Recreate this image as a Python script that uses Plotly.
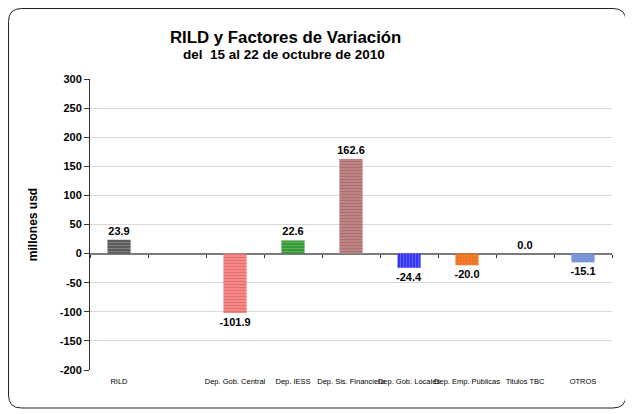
import plotly.graph_objects as go

categories = ["RILD", " ", "Dep. Gob. Central", "Dep. IESS", "Dep. Sis. Financiero",
              "Dep. Gob. Locales", "Dep. Emp. Públicas", "Titulos TBC", "OTROS"]
values = [23.9, None, -101.9, 22.6, 162.6, -24.4, -20.0, 0.0, -15.1]
colors = ["#5c5c5c", "#ffffff", "#ff8585", "#339933", "#c08282",
          "#3535fa", "#ff7b24", "#ffffff", "#7d98e0"]
pattern_fg = ["#4a4a4a", "#ffffff", "#f57c7c", "#2f8c2f", "#b87a7a",
              "#2c2cec", "#f2721a", "#ffffff", "#728cd6"]
pattern_shapes = ["-", "", "-", "-", "-", "|", "+", "", "/"]
yticks = [-200, -150, -100, -50, 0, 50, 100, 150, 200, 250, 300]

FONT = "Liberation Sans, Arial, sans-serif"
labels = ["" if v is None else f"{v:.1f}" for v in values]
ytick_text = [str(v) for v in yticks]

# page has an 8px body margin: build the figure 8px smaller and shift coords
OFF = 8
W, H = 633 - OFF, 414 - OFF
PL, PR, PT, PB = 90, 612, 79, 370          # plot area in page pixels
l, t = PL - OFF, PT - OFF
r, b = W - (PR - OFF), H - (PB - OFF)
pw, ph = PR - PL, PB - PT

fig = go.Figure()
fig.add_trace(go.Bar(
    x=categories, y=values, width=0.4,
    marker=dict(color=colors, line=dict(width=0),
                pattern=dict(shape=pattern_shapes, fgcolor=pattern_fg,
                             size=3, solidity=0.15)),
    text=labels, textposition="outside", cliponaxis=False, constraintext="none",
    textfont=dict(family=FONT, size=11, color="#000", weight="bold"),
    hoverinfo="skip", showlegend=False,
))
# helper trace to draw tick marks at the zero line
fig.add_trace(go.Scatter(
    x=categories, y=[0 if v is None else v for v in values], xaxis="x2",
    mode="markers", marker=dict(opacity=0), hoverinfo="skip", showlegend=False,
))

# rounded border (page pixels 7..626 x 8..408), relative to plot bottom-left
bl, br, bt, bb, rad = 8.5 - PL, 626 - PL, PB - 8.5, PB - 408, 13
border = (f"M {bl+rad},{bt} L {br-rad},{bt} Q {br},{bt} {br},{bt-rad} "
          f"L {br},{bb+rad} Q {br},{bb} {br-rad},{bb} L {bl+rad},{bb} "
          f"Q {bl},{bb} {bl},{bb+rad} L {bl},{bt-rad} Q {bl},{bt} {bl+rad},{bt} Z")

fig.update_layout(
    width=W, height=H,
    margin=dict(l=l, r=r, t=t, b=b, autoexpand=False),
    paper_bgcolor="white", plot_bgcolor="white",
    font=dict(family=FONT, color="#000"),
    bargap=0.6,
    xaxis=dict(type="category", categoryorder="array", categoryarray=categories,
               range=[-0.5, 8.5], showgrid=False, zeroline=False, showline=False,
               ticks="outside", ticklen=4, tickcolor="rgba(0,0,0,0)",
               tickfont=dict(family=FONT, size=7.5, color="#000"),
               tickangle=0),
    xaxis2=dict(type="category", categoryorder="array", categoryarray=categories,
                range=[-0.5, 8.5], overlaying="x", anchor="free", position=0.4,
                side="bottom", showgrid=False, zeroline=False, showline=False,
                ticks="outside", ticklen=3, tickcolor="#333", tickwidth=1,
                tickson="boundaries", showticklabels=False),
    yaxis=dict(range=[-200, 300], tickvals=yticks, ticktext=ytick_text, showgrid=True,
               gridcolor="#d9d9d9", gridwidth=1,
               zeroline=True, zerolinecolor="#7a7a7a", zerolinewidth=2,
               showline=True, linecolor="#333", linewidth=1,
               ticks="outside", ticklen=5, tickcolor="#333",
               tickfont=dict(family=FONT, size=11, color="#000", weight="bold"),
               title=dict(text="millones usd", standoff=19,
                          font=dict(family=FONT, size=12, color="#000", weight="bold"))),
    annotations=[
        dict(text="RILD y Factores de Variación", xref="paper", yref="paper",
             x=(285 - PL) / pw, y=1 + (PT - 37) / ph, showarrow=False,
             xanchor="center", yanchor="middle",
             font=dict(family=FONT, size=16.8, color="#000", weight="bold")),
        dict(text="del  15 al 22 de octubre de 2010", xref="paper", yref="paper",
             x=(284 - PL) / pw, y=1 + (PT - 54) / ph, showarrow=False,
             xanchor="center", yanchor="middle",
             font=dict(family=FONT, size=13.5, color="#000", weight="bold")),
    ],
    shapes=[dict(
        type="path", xref="paper", yref="paper", xsizemode="pixel", ysizemode="pixel",
        xanchor=0, yanchor=0, path=border,
        line=dict(color="#222", width=1), fillcolor="rgba(0,0,0,0)", layer="below",
    )],
)

fig.write_html("out.html")
